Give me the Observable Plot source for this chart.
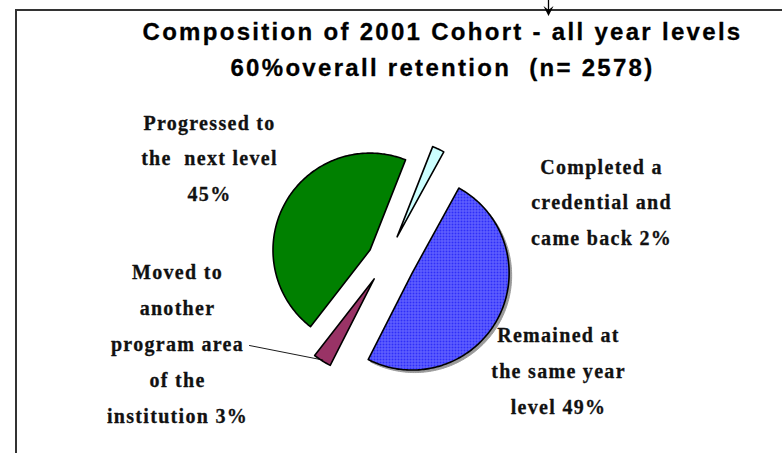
<!DOCTYPE html>
<html><head><meta charset="utf-8">
<script src="https://cdn.jsdelivr.net/npm/d3@7"></script>
<script src="https://cdn.jsdelivr.net/npm/@observablehq/plot@0.6"></script>
<style>
html,body{margin:0;padding:0;background:#fff;}
#wrap{position:relative;width:782px;height:453px;overflow:hidden;}
#frame{position:absolute;left:15px;top:9px;width:820px;height:520px;border-top:2px solid #333;border-left:2px solid #333;pointer-events:none;}
#arrow{position:absolute;left:0;top:0;pointer-events:none;}
g[font-family^="Liberation Serif"] text{letter-spacing:1.3px;}
g[font-family^="Liberation Sans"] text{letter-spacing:2.3px;}
</style></head><body><div id="wrap"></div>
<script>
// ---- data ----
const categories = [
  "Completed a credential and came back",
  "Remained at the same year level",
  "Moved to another program area of the institution",
  "Progressed to the next level"
];
const shares = [2, 49, 3, 45];
const sliceColors = ["#ccffff", "url(#bluePattern)", "#993366", "#008000"];
const labelLines = [
  ["Completed a", "credential and", "came back {v}%"],
  ["Remained at", "the same year", "level {v}%"],
  ["Moved to", "another", "program area", "of the", "institution {v}%"],
  ["Progressed to", "the  next level", "{v}%"]
];
const titleLines = ["Composition of 2001 Cohort - all year levels", "60%overall retention  (n= 2578)"];

// ---- layout ----
const W = 782, H = 453;
const cx = 386, cy = 259, R = 97;
const startDeg = 21.5;
const explode = [25, 29, 23, 19];
const labelAnchor = [{x: 601, y: 173, gap: 35.5}, {x: 558, y: 341, gap: 36}, {x: 177, y: 278, gap: 36}, {x: 209, y: 129, gap: 35.5}];
const leaderStart = {x: 249, y: 345};

const a0 = startDeg * Math.PI / 180;
const arcs = d3.pie().sort(null).value(d => d).startAngle(a0).endAngle(a0 + 2 * Math.PI)(shares);

const slices = arcs.map((a, i) => {
  const mid = (a.startAngle + a.endAngle) / 2;
  const ox = cx + explode[i] * Math.sin(mid), oy = cy - explode[i] * Math.cos(mid);
  const pts = [{x: ox, y: oy, k: i, fill: sliceColors[i]}];
  const n = Math.max(4, Math.ceil((a.endAngle - a.startAngle) / (Math.PI / 180)));
  for (let j = 0; j <= n; j++) {
    const t = a.startAngle + (a.endAngle - a.startAngle) * j / n;
    pts.push({x: ox + R * Math.sin(t), y: oy - R * Math.cos(t), k: i, fill: sliceColors[i]});
  }
  return {pts, mid, ox, oy};
});
const allPts = slices.flatMap(s => s.pts);

// leader for "Moved to another program area"
const mv = slices[2];
const leader = [leaderStart, {x: mv.ox + R * 0.99 * Math.sin(mv.mid), y: mv.oy - R * 0.99 * Math.cos(mv.mid)}];

const labelRows = labelLines.flatMap((lines, i) => lines.map((t, j) => ({
  x: labelAnchor[i].x, y: labelAnchor[i].y + j * labelAnchor[i].gap,
  t: t.replace("{v}", shares[i]), cat: categories[i]
})));
const titleRows = titleLines.map((t, j) => ({x: 442, y: 39 + j * 36, t}));

const plot = Plot.plot({
  width: W, height: H,
  margin: 0,
  x: {domain: [0, W], range: [0, W], axis: null},
  y: {domain: [0, H], range: [0, H], axis: null},
  color: {type: "identity"},
  style: {background: "transparent", overflow: "visible"},
  marks: [
    Plot.line(slices[1].pts, {x: "x", y: "y", curve: "linear-closed", fill: "#9a9a9a", stroke: "#9a9a9a", strokeWidth: 1, dx: 2.5, dy: 2.5}),
    Plot.line(allPts, {x: "x", y: "y", z: "k", curve: "linear-closed", fill: "fill", stroke: "#000", strokeWidth: 1.6, strokeLinejoin: "round"}),
    Plot.line(leader, {x: "x", y: "y", stroke: "#000", strokeWidth: 0.9}),
    Plot.text(labelRows, {x: "x", y: "y", text: "t", lineAnchor: "bottom", textAnchor: "middle", fontFamily: "Liberation Serif", fontWeight: "bold", fontSize: 20, fill: "#111", stroke: "#111", strokeWidth: 0.3}),
    Plot.text(titleRows, {x: "x", y: "y", text: "t", lineAnchor: "bottom", textAnchor: "middle", fontFamily: "Liberation Sans", fontWeight: "bold", fontSize: 24, fill: "#000", stroke: "#000", strokeWidth: 0.3})
  ]
});

const ns = "http://www.w3.org/2000/svg";
const defs = document.createElementNS(ns, "defs");
defs.innerHTML = '<pattern id="bluePattern" width="3" height="3" patternUnits="userSpaceOnUse">' +
  '<rect width="3" height="3" fill="#2e2ef8"/><rect x="0" y="0" width="3" height="1" fill="#6a6aff"/><rect x="0" y="0" width="1" height="3" fill="#6a6aff"/></pattern>';
plot.insertBefore(defs, plot.firstChild);

const wrap = document.getElementById("wrap");
wrap.appendChild(plot);
const frame = document.createElement("div"); frame.id = "frame"; wrap.appendChild(frame);
wrap.insertAdjacentHTML("beforeend",
  '<svg id="arrow" width="782" height="30"><line x1="548.5" y1="0" x2="548.5" y2="12" stroke="#000" stroke-width="1.3"/>' +
  '<path d="M548.5,16 L543.5,6 L548.5,10 L553.5,6 Z" fill="#000"/></svg>');
</script>
</body></html>
